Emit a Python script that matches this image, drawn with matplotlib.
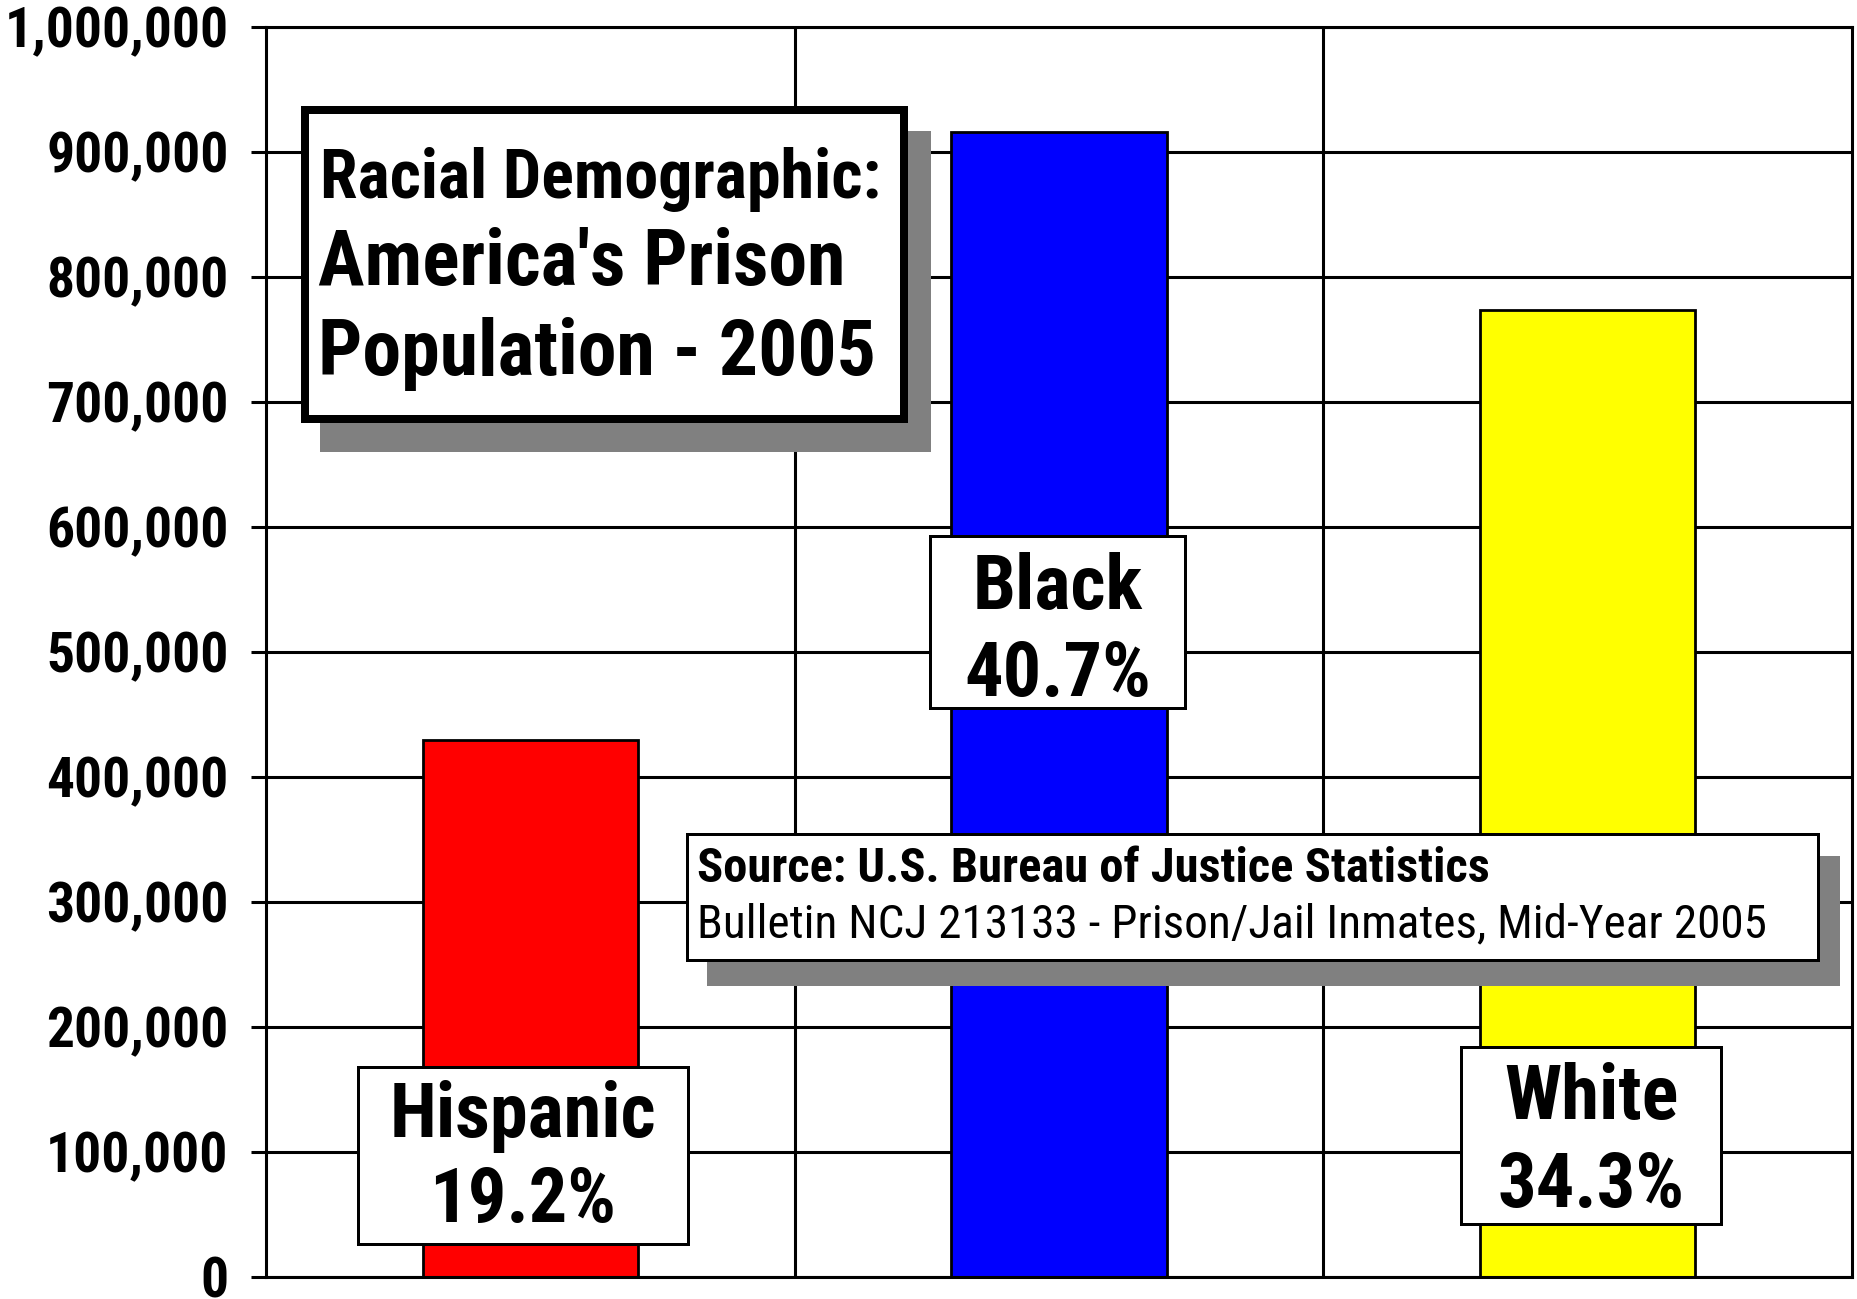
import matplotlib
matplotlib.use("Agg")
import matplotlib.pyplot as plt
from matplotlib.patches import Rectangle
from matplotlib.ticker import FuncFormatter
import numpy as np

# --- data -------------------------------------------------------------
categories = ["Hispanic", "Black", "White"]
inmates = [430000, 916000, 774000]
shares = ["19.2%", "40.7%", "34.3%"]
bar_colors = ["#FF0000", "#0000FF", "#FFFF00"]
y_ticks = list(range(0, 1000001, 100000))

title_lines = ["Racial Demographic:", "America's Prison", "Population - 2005"]
source_lines = ["Source: U.S. Bureau of Justice Statistics",
                "Bulletin NCJ 213133 - Prison/Jail Inmates, Mid-Year 2005"]

# --- figure -----------------------------------------------------------
W, H = 1858, 1299
DPI = 100
plt.rcParams["font.family"] = ["Roboto Condensed", "Liberation Sans", "DejaVu Sans"]

fig = plt.figure(figsize=(W / DPI, H / DPI), dpi=DPI, facecolor="white")


def fx(px):
    return px / W


def fy(py):
    return 1 - py / H


ax = fig.add_axes([fx(266), fy(1277), fx(1852 - 266), (1277 - 27) / H])

x = np.arange(len(categories))
ax.bar(x, inmates, width=0.407, color=bar_colors, edgecolor="black",
       linewidth=2.0, zorder=2)

ax.set_xlim(-0.5, 2.5)
ax.set_ylim(0, 1000000)
ax.set_yticks(y_ticks)
ax.yaxis.set_major_formatter(FuncFormatter(lambda v, p: f"{int(v):,}"))
ax.set_xticks([])
ax.set_xticks([0.5, 1.5], minor=True)
ax.tick_params(axis="x", which="both", length=0, labelbottom=False)
ax.tick_params(axis="y", direction="out", length=11, width=2.2, pad=16,
               labelsize=40, colors="black")
for lab in ax.get_yticklabels():
    lab.set_fontweight("bold")

ax.set_axisbelow(True)
ax.yaxis.grid(True, color="black", linewidth=2.2)
ax.xaxis.grid(True, which="minor", color="black", linewidth=2.2)
for sp in ax.spines.values():
    sp.set_color("black")
    sp.set_linewidth(2.2)


def framed_box(x0, y0, x1, y1, lw_px, shadow=None, z=5):
    """White box with black frame given by its outer pixel edges (top-left origin)."""
    if shadow is not None:
        sx0, sy0, sx1, sy1 = shadow
        fig.add_artist(Rectangle((fx(sx0), fy(sy1)), fx(sx1 - sx0), (sy1 - sy0) / H,
                                 transform=fig.transFigure, facecolor="#808080",
                                 edgecolor="none", zorder=z))
    h = lw_px / 2
    fig.add_artist(Rectangle((fx(x0 + h), fy(y1 - h)), fx(x1 - x0 - lw_px),
                             (y1 - y0 - lw_px) / H, transform=fig.transFigure,
                             facecolor="white", edgecolor="black",
                             linewidth=lw_px * 72 / DPI, zorder=z + 1))


# title panel
framed_box(301, 106, 908, 423, 8, shadow=(320, 131, 931, 452))
fig.text(fx(320), fy(198), title_lines[0], fontsize=49, fontweight="bold",
         ha="left", va="baseline", zorder=10)
fig.text(fx(318), fy(285), title_lines[1], fontsize=56, fontweight="bold",
         ha="left", va="baseline", zorder=10)
fig.text(fx(318), fy(375), title_lines[2], fontsize=56, fontweight="bold",
         ha="left", va="baseline", zorder=10)

# source panel
framed_box(686, 832, 1819, 961, 3, shadow=(707, 856, 1840, 986))
fig.text(fx(697), fy(882), source_lines[0], fontsize=35, fontweight="bold",
         ha="left", va="baseline", zorder=10)
fig.text(fx(697), fy(937), source_lines[1], fontsize=34, fontweight="normal",
         ha="left", va="baseline", zorder=10)

# category labels
label_boxes = [(357, 1065, 689, 1245), (929, 535, 1187, 710), (1460, 1045, 1723, 1225)]
label_baselines = [(1137, 1222), (609, 696), (1119, 1207)]
for name, share, (bx0, by0, bx1, by1), (b1, b2) in zip(categories, shares,
                                                        label_boxes, label_baselines):
    framed_box(bx0, by0, bx1, by1, 3)
    cx = (bx0 + bx1) / 2
    fig.text(fx(cx), fy(b1), name, fontsize=55, fontweight="bold",
             ha="center", va="baseline", zorder=10)
    fig.text(fx(cx), fy(b2), share, fontsize=55, fontweight="bold",
             ha="center", va="baseline", zorder=10)

fig.savefig("out.png", dpi=DPI, facecolor="white")
